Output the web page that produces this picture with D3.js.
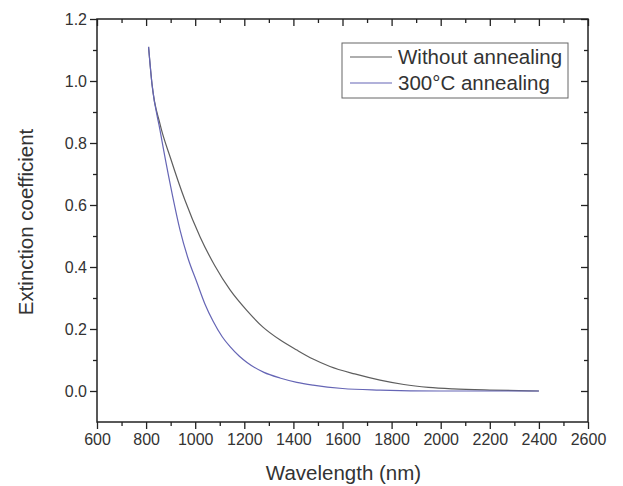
<!DOCTYPE html>
<html>
<head>
<meta charset="utf-8">
<script src="https://cdn.jsdelivr.net/npm/d3@7"></script>
<style>
  html, body { margin: 0; padding: 0; background: #fff; }
  svg { display: block; font-family: "Liberation Sans", Arial, sans-serif; }
</style>
</head>
<body>
<svg id="chart" width="623" height="486"></svg>
<script>
// ---- data ----
const seriesNames = ["Without annealing", "300°C annealing"];
const seriesColors = ["#5e5e5e", "#6565b5"];

const wlNoAnneal = [810, 824, 857, 900, 958, 1020, 1080, 1142, 1210, 1276, 1345, 1414, 1480, 1549, 1650, 1753, 1850, 1950, 2050, 2200, 2400];
const kNoAnneal  = [1.11, 0.99, 0.86, 0.75, 0.616, 0.497, 0.404, 0.326, 0.26, 0.206, 0.165, 0.132, 0.103, 0.079, 0.055, 0.035, 0.021, 0.012, 0.007, 0.003, 0.0];

const wlAnneal300 = [810, 824, 857, 900, 938, 970, 1007, 1040, 1073, 1110, 1142, 1180, 1211, 1280, 1345, 1414, 1480, 1600, 1753, 2000, 2200, 2400];
const kAnneal300  = [1.11, 0.99, 0.84, 0.66, 0.52, 0.43, 0.35, 0.28, 0.225, 0.175, 0.143, 0.112, 0.092, 0.06, 0.042, 0.028, 0.019, 0.008, 0.003, 0.0, 0.0, 0.0];

const xMajorTicks = [600, 800, 1000, 1200, 1400, 1600, 1800, 2000, 2200, 2400, 2600];
const yMajorTicks = [0.0, 0.2, 0.4, 0.6, 0.8, 1.0, 1.2];

const xTitle = "Wavelength (nm)";
const yTitle = "Extinction coefficient";

(function () {
// ---- layout ----
const svg = d3.select("#chart");
const pL = 97, pR = 588, pT = 19, pB = 422;

const x = d3.scaleLinear().domain([600, 2600]).range([pL, pR]);
const y = d3.scaleLinear().domain([-0.1, 1.2]).range([pB, pT]);

const xMinor = d3.range(700, 2600, 200);
const yMinor = [0.1, 0.3, 0.5, 0.7, 0.9, 1.1];

const axisColor = "#222";
const majorLen = 7, minorLen = 4;

// bottom axis (outward ticks)
const gBottom = svg.append("g").attr("transform", `translate(0,${pB})`)
  .call(d3.axisBottom(x).tickValues(xMajorTicks).tickSize(majorLen).tickPadding(5).tickFormat(d3.format("d")));
gBottom.append("g").call(d3.axisBottom(x).tickValues(xMinor).tickSize(minorLen).tickFormat(""));

// left axis (outward ticks)
const gLeft = svg.append("g").attr("transform", `translate(${pL},0)`)
  .call(d3.axisLeft(y).tickValues(yMajorTicks).tickSize(majorLen).tickPadding(3).tickFormat(d3.format(".1f")));
gLeft.append("g").call(d3.axisLeft(y).tickValues(yMinor).tickSize(minorLen).tickFormat(""));

// top axis (inward ticks, no labels)
const gTop = svg.append("g").attr("transform", `translate(0,${pT})`)
  .call(d3.axisBottom(x).tickValues(xMajorTicks).tickSize(majorLen).tickFormat(""));
gTop.append("g").call(d3.axisBottom(x).tickValues(xMinor).tickSize(minorLen).tickFormat(""));

// right axis (inward ticks, no labels)
const gRight = svg.append("g").attr("transform", `translate(${pR},0)`)
  .call(d3.axisLeft(y).tickValues(yMajorTicks).tickSize(majorLen).tickFormat(""));
gRight.append("g").call(d3.axisLeft(y).tickValues(yMinor).tickSize(minorLen).tickFormat(""));

svg.selectAll(".domain").attr("stroke", "none");
svg.selectAll(".tick line").attr("stroke", axisColor).attr("stroke-width", 1.3);
svg.selectAll(".tick text").attr("fill", "#333").style("font-size", "16px")
  .style("font-family", '"Liberation Sans", Arial, sans-serif');

// frame
svg.append("rect")
  .attr("x", pL).attr("y", pT)
  .attr("width", pR - pL).attr("height", pB - pT)
  .attr("fill", "none").attr("stroke", axisColor).attr("stroke-width", 1.5);

// lines
const line = d3.line().x(d => x(d[0])).y(d => y(d[1])).curve(d3.curveMonotoneX);
const series = [
  d3.zip(wlNoAnneal, kNoAnneal),
  d3.zip(wlAnneal300, kAnneal300)
];
series.forEach((s, i) => {
  svg.append("path").datum(s)
    .attr("d", line)
    .attr("fill", "none")
    .attr("stroke", seriesColors[i])
    .attr("stroke-width", 1.2);
});

// legend
const lg = svg.append("g");
lg.append("rect").attr("x", 342).attr("y", 43).attr("width", 226).attr("height", 55)
  .attr("fill", "#fff").attr("stroke", "#666").attr("stroke-width", 1);
seriesNames.forEach((name, i) => {
  const cy = 57 + i * 26;
  lg.append("line").attr("x1", 350).attr("x2", 392).attr("y1", cy).attr("y2", cy)
    .attr("stroke", seriesColors[i]).attr("stroke-width", 1.2);
  lg.append("text").attr("x", 398).attr("y", cy).attr("dy", "0.36em")
    .attr("fill", "#333").style("font-size", "20.5px").text(name);
});

// axis titles
svg.append("text")
  .attr("x", (pL + pR) / 2 + 1).attr("y", 473).attr("dy", "0.36em")
  .attr("text-anchor", "middle").attr("fill", "#333").style("font-size", "20.5px")
  .text(xTitle);
svg.append("text")
  .attr("transform", `translate(26,${222}) rotate(-90)`)
  .attr("dy", "0.36em")
  .attr("text-anchor", "middle").attr("fill", "#333").style("font-size", "20.5px")
  .text(yTitle);
})();
</script>
</body>
</html>
